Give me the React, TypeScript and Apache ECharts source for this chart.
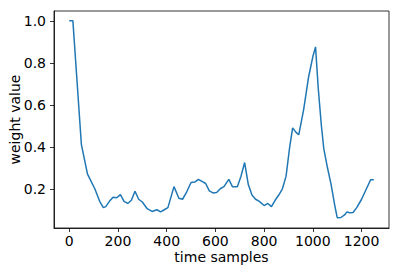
import React, { useEffect, useRef } from "react";
import * as echarts from "echarts";

const xValues = [0, 15, 50, 75, 105, 125, 140, 150, 165, 180, 195, 210, 225, 240, 255, 270, 285, 300, 320, 340, 360, 375, 390, 405, 430, 450, 465, 480, 500, 515, 530, 545, 560, 575, 590, 605, 620, 635, 655, 670, 690, 705, 720, 735, 750, 765, 780, 800, 815, 830, 845, 860, 875, 890, 905, 917, 930, 942, 962, 982, 1000, 1011, 1022, 1035, 1045, 1060, 1075, 1090, 1100, 1115, 1130, 1140, 1150, 1165, 1180, 1200, 1220, 1237, 1250];
const yValues = [1.0, 1.0, 0.41, 0.27, 0.2, 0.14, 0.11, 0.115, 0.14, 0.16, 0.157, 0.172, 0.14, 0.13, 0.145, 0.188, 0.15, 0.137, 0.105, 0.092, 0.1, 0.09, 0.1, 0.11, 0.21, 0.155, 0.15, 0.18, 0.23, 0.232, 0.245, 0.235, 0.225, 0.19, 0.18, 0.182, 0.2, 0.21, 0.245, 0.21, 0.21, 0.26, 0.325, 0.22, 0.17, 0.15, 0.14, 0.12, 0.13, 0.115, 0.145, 0.17, 0.2, 0.26, 0.4, 0.49, 0.47, 0.457, 0.576, 0.73, 0.83, 0.876, 0.68, 0.5, 0.39, 0.3, 0.22, 0.12, 0.062, 0.063, 0.075, 0.09, 0.086, 0.087, 0.11, 0.15, 0.2, 0.243, 0.243];
const xTicks = [0, 200, 400, 600, 800, 1000, 1200];
const yTicks = [0.2, 0.4, 0.6, 0.8, 1.0];

export default function App() {
  const ref = useRef<HTMLDivElement>(null);
  useEffect(() => {
    if (!ref.current) return;
    const chart = echarts.init(ref.current, null, { renderer: "svg" });
    const font = "DejaVu Sans";
    chart.setOption({
      animation: false,
      grid: {
        left: 54,
        right: 11,
        top: 11,
        bottom: 46,
        containLabel: false,
        outerBoundsMode: "none",
        show: true,
        borderColor: "#000",
        borderWidth: 0.8,
        backgroundColor: "transparent",
      },
      xAxis: {
        type: "value",
        min: -62.5,
        max: 1312.5,
        name: "time samples",
        nameLocation: "middle",
        nameGap: 22,
        nameMoveOverlap: false,
        nameTextStyle: { fontFamily: font, fontSize: 14, color: "#000" },
        splitLine: { show: false },
        axisLine: { show: true, onZero: false, lineStyle: { color: "#000", width: 0.8 } },
        axisTick: { show: true, length: 4, customValues: xTicks, lineStyle: { color: "#000", width: 0.8 } },
        axisLabel: {
          customValues: xTicks,
          fontFamily: font,
          fontSize: 14,
          color: "#000",
          margin: 6,
          formatter: (v: number) => String(v),
        },
      },
      yAxis: {
        type: "value",
        min: 0.013,
        max: 1.047,
        name: "weight value",
        nameLocation: "middle",
        nameGap: 32,
        nameMoveOverlap: false,
        nameTextStyle: { fontFamily: font, fontSize: 14, color: "#000" },
        splitLine: { show: false },
        axisLine: { show: true, onZero: false, lineStyle: { color: "#000", width: 0.8 } },
        axisTick: { show: true, length: 4, customValues: yTicks, lineStyle: { color: "#000", width: 0.8 } },
        axisLabel: {
          customValues: yTicks,
          fontFamily: font,
          fontSize: 14,
          color: "#000",
          margin: 8,
          formatter: (v: number) => v.toFixed(1),
        },
      },
      series: [
        {
          type: "line",
          data: xValues.map((x, i) => [x, yValues[i]]),
          showSymbol: false,
          lineStyle: { color: "#1f77b4", width: 1.5 },
        },
      ],
    });
    return () => chart.dispose();
  }, []);
  return <div ref={ref} style={{ width: 400, height: 274, position: "absolute", left: 0, top: 0 }} />;
}
